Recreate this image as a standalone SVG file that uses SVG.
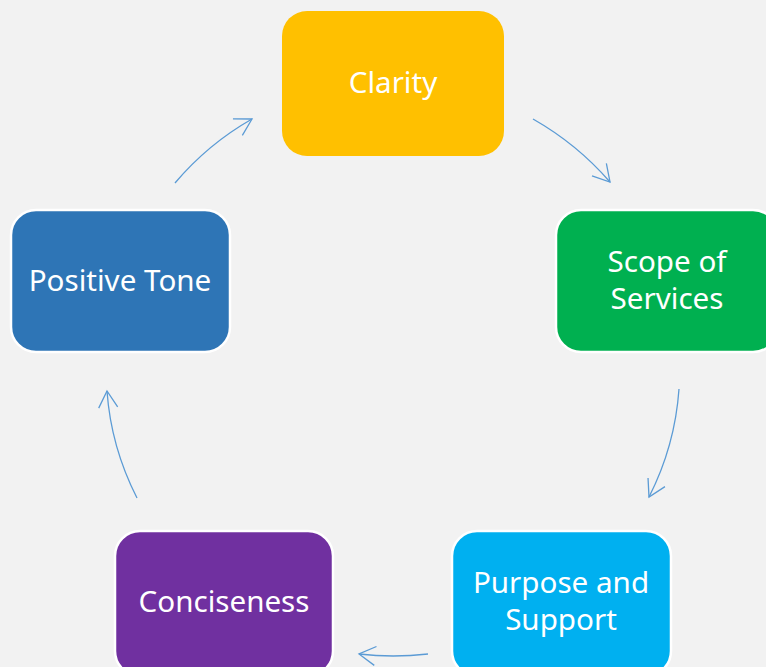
<svg xmlns="http://www.w3.org/2000/svg" width="766" height="667" viewBox="0 0 766 667">
<style>
.box{stroke:#FFFFFF;stroke-width:2.5}
.lbl{font-family:"Noto Sans","Open Sans",sans-serif;font-size:29.6px;fill:#FFFFFF;text-anchor:middle}
.arr{fill:none;stroke:#5B9BD5;stroke-width:1.3;marker-end:url(#ah)}
</style>
<defs>
<marker id="ah" markerUnits="userSpaceOnUse" markerWidth="24" markerHeight="24" viewBox="-20 -12 24 24" refX="0" refY="0" orient="auto">
<path d="M-16.5,-9.5 L0,0 L-16.5,9.5" fill="none" stroke="#5B9BD5" stroke-width="1.3"/>
</marker>
</defs>
<rect width="766" height="667" fill="#F2F2F2"/>
<g id="connectors">
<path class="arr" d="M533,119 Q577,144 610,182"/>
<path class="arr" d="M679,389 Q675,446 649,497"/>
<path class="arr" d="M428,654 Q393,658 359,654"/>
<path class="arr" d="M137,498 Q111,447 107,391"/>
<path class="arr" d="M175,183 Q208,144 252,119"/>
</g>
<g id="clarity">
<rect x="282" y="11" width="222" height="145" rx="25" fill="#FFC000"/>
<text class="lbl" x="393" y="93">Clarity</text>
</g>
<g id="scope">
<rect class="box" x="556" y="210" width="222" height="142" rx="25" fill="#00B050"/>
<text class="lbl" x="667" y="272">Scope of</text>
<text class="lbl" x="667" y="309">Services</text>
</g>
<g id="purpose">
<rect class="box" x="452" y="531" width="219" height="145" rx="25" fill="#00B0F0"/>
<text class="lbl" x="561" y="593">Purpose and</text>
<text class="lbl" x="561" y="630">Support</text>
</g>
<g id="conciseness">
<rect class="box" x="115" y="531" width="218" height="145" rx="25" fill="#7030A0"/>
<text class="lbl" x="224" y="612">Conciseness</text>
</g>
<g id="positive">
<rect class="box" x="11" y="210" width="219" height="142" rx="25" fill="#2E75B6"/>
<text class="lbl" x="120" y="291">Positive Tone</text>
</g>
</svg>
